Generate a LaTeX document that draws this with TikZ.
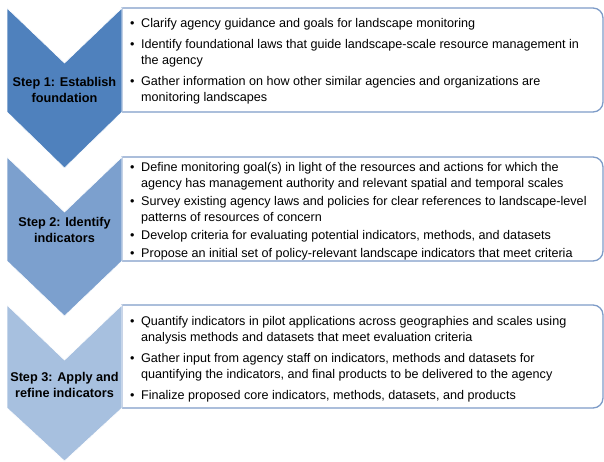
\documentclass[tikz,border=0pt]{standalone}
\usepackage{fontspec}
\setmainfont{Liberation Sans}
\usetikzlibrary{positioning}
\definecolor{stepone}{RGB}{79,129,189}
\definecolor{steptwo}{RGB}{124,160,206}
\definecolor{stepthree}{RGB}{167,192,223}
\definecolor{boxline}{RGB}{126,156,200}
\newcommand{\bul}{\makebox[11pt][l]{\textbullet}}
\newcommand{\cnt}{\hspace*{11pt}}

\begin{document}
\begin{tikzpicture}[x=1pt, y=-1pt,
			chev/.style={draw=white, line width=0.6pt},
			panel/.style={draw=boxline, line width=1.3pt, fill=white},
			steplabel/.style={font=\fontsize{12.7}{16}\selectfont\bfseries, align=center, inner sep=0pt},
			bullets/.style={font=\fontsize{12.6}{16}\selectfont, align=left, inner sep=0pt, anchor=north west}
		]
		\useasboundingbox (0,0) rectangle (604,462);

		% panels behind the chevrons
		\draw[panel] (122,8) [rounded corners=10pt] -- (603,8) -- (603,112) [sharp corners] -- (122,112) -- cycle;
		\draw[panel] (122,157) [rounded corners=10pt] -- (603,157) -- (603,261) [sharp corners] -- (122,261) -- cycle;
		\draw[panel] (122,305) [rounded corners=10pt] -- (603,305) -- (603,408) [sharp corners] -- (122,408) -- cycle;

		% chevrons
		\fill[chev, fill=stepone] (7,8) -- (64.5,63) -- (122,8) -- (122,112) -- (64.5,168) -- (7,112) -- cycle;
		\fill[chev, fill=steptwo] (7,157) -- (64.5,212) -- (122,157) -- (122,261) -- (64.5,316) -- (7,261) -- cycle;
		\fill[chev, fill=stepthree] (7,305) -- (64.5,360) -- (122,305) -- (122,408) -- (64.5,461) -- (7,408) -- cycle;

		\node[steplabel] (s1) at (64.5,90) {Step 1: Establish\\foundation};
		\node[steplabel] (s2) at (64.5,229.5) {Step 2: Identify\\indicators};
		\node[steplabel] (s3) at (64.5,384.5) {Step 3: Apply and\\refine indicators};

		\node[bullets] (b1) at (130,18.5) {\bul Clarify agency guidance and goals for landscape monitoring\\[5pt]
			\bul Identify foundational laws that guide landscape-scale resource management in\\
			\cnt the agency\\[5pt]
			\bul Gather information on how other similar agencies and organizations are\\
			\cnt monitoring landscapes};
		\node[bullets] (b2) at (130,162) {\bul Define monitoring goal(s) in light of the resources and actions for which the\\
			\cnt agency has management authority and relevant spatial and temporal scales\\[2pt]
			\bul Survey existing agency laws and policies for clear references to landscape-level\\
			\cnt patterns of resources of concern\\[2pt]
			\bul Develop criteria for evaluating potential indicators, methods, and datasets\\[2pt]
			\bul Propose an initial set of policy-relevant landscape indicators that meet criteria};
		\node[bullets] (b3) at (130,316) {\bul Quantify indicators in pilot applications across geographies and scales using\\
			\cnt analysis methods and datasets that meet evaluation criteria\\[5pt]
			\bul Gather input from agency staff on indicators, methods and datasets for\\
			\cnt quantifying the indicators, and final products to be delivered to the agency\\[5pt]
			\bul Finalize proposed core indicators, methods, datasets, and products};
		\end{tikzpicture}
\end{document}
